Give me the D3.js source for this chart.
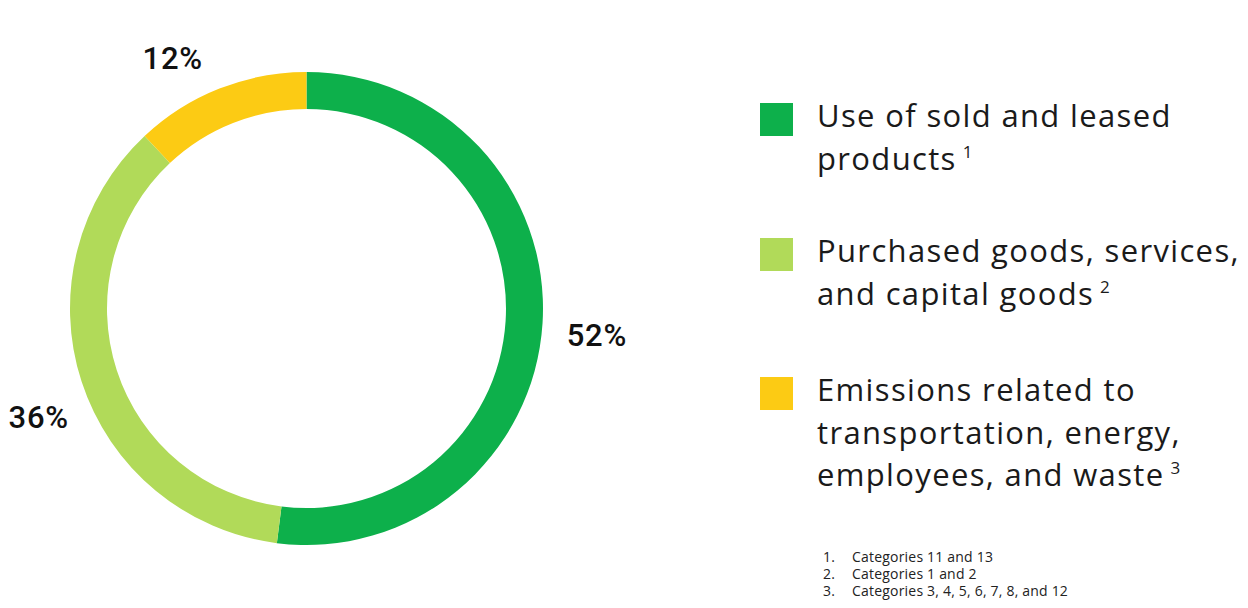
<!DOCTYPE html>
<html>
<head>
<meta charset="utf-8">
<script src="https://cdn.jsdelivr.net/npm/d3@7/dist/d3.min.js"></script>
<style>
  html, body { margin: 0; padding: 0; background: #ffffff; }
  svg { display: block; font-family: "Open Sans", Lato, sans-serif; }
</style>
</head>
<body>
<svg id="chart" width="1248" height="608"></svg>
<script>
// ---- data ----
const categories = [
  "Use of sold and leased products",
  "Purchased goods, services, and capital goods",
  "Emissions related to transportation, energy, employees, and waste"
];
const values = [52, 36, 12];
const colors = ["#0db04b", "#b1da59", "#fccb14"];
const legendLines = [
  ["Use of sold and leased", "products"],
  ["Purchased goods, services,", "and capital goods"],
  ["Emissions related to", "transportation, energy,", "employees, and waste"]
];
const footnoteMarks = ["1", "2", "3"];
const footnotes = [
  "Categories 11 and 13",
  "Categories 1 and 2",
  "Categories 3, 4, 5, 6, 7, 8, and 12"
];

// ---- layout ----
const svg = d3.select("#chart");
const cx = 306.5, cy = 308.5;
const outerR = 236.5, innerR = 199.5;
const labelR = 290;
const labelNudge = [[1, 8], [8, 19], [-27, 19]];

const pie = d3.pie().sort(null).value(d => d);
const arcs = pie(values);
const arc = d3.arc().innerRadius(innerR).outerRadius(outerR);
const labelArc = d3.arc().innerRadius(labelR).outerRadius(labelR);

const g = svg.append("g").attr("transform", `translate(${cx},${cy})`);
g.selectAll("path.slice")
  .data(arcs)
  .join("path")
  .attr("class", "slice")
  .attr("d", arc)
  .attr("fill", (d, i) => colors[i]);

g.selectAll("text.pct")
  .data(arcs)
  .join("text")
  .attr("class", "pct")
  .attr("x", (d, i) => labelArc.centroid(d)[0] + labelNudge[i][0])
  .attr("y", (d, i) => labelArc.centroid(d)[1] + labelNudge[i][1])
  .attr("text-anchor", "middle")
  .attr("dy", "0.35em")
  .attr("font-family", "Roboto, 'Open Sans', sans-serif")
  .attr("font-size", 31)
  .attr("font-weight", 500)
  .attr("letter-spacing", 0.8)
  .attr("fill", "#111")
  .text(d => d.value + "%");

// ---- legend ----
const legendX = 760, legendTextX = 817;
const legendTop = [103, 238, 377];
const sw = 33, lineH = 42.5;
const lg = svg.append("g");
categories.forEach((c, i) => {
  lg.append("rect")
    .attr("x", legendX).attr("y", legendTop[i])
    .attr("width", sw).attr("height", sw)
    .attr("fill", colors[i]);
  const t = lg.append("text")
    .attr("font-size", 31)
    .attr("letter-spacing", 1.35)
    .attr("fill", "#1a1a1a");
  const lines = legendLines[i];
  lines.forEach((ln, j) => {
    t.append("tspan")
      .attr("x", legendTextX)
      .attr("y", legendTop[i] + 24 + j * lineH)
      .text(ln);
    if (j === lines.length - 1) {
      t.append("tspan")
        .attr("dx", 6)
        .attr("font-size", 17)
        .attr("dy", -12)
        .text(footnoteMarks[i]);
    }
  });
});

// ---- footnotes ----
const fg = svg.append("g").attr("font-size", 14).attr("letter-spacing", 0.2).attr("fill", "#222");
footnotes.forEach((f, i) => {
  fg.append("text").attr("x", 823).attr("y", 562 + i * 17).text(footnoteMarks[i] + ".");
  fg.append("text").attr("x", 852).attr("y", 562 + i * 17).text(f);
});
</script>
</body>
</html>
